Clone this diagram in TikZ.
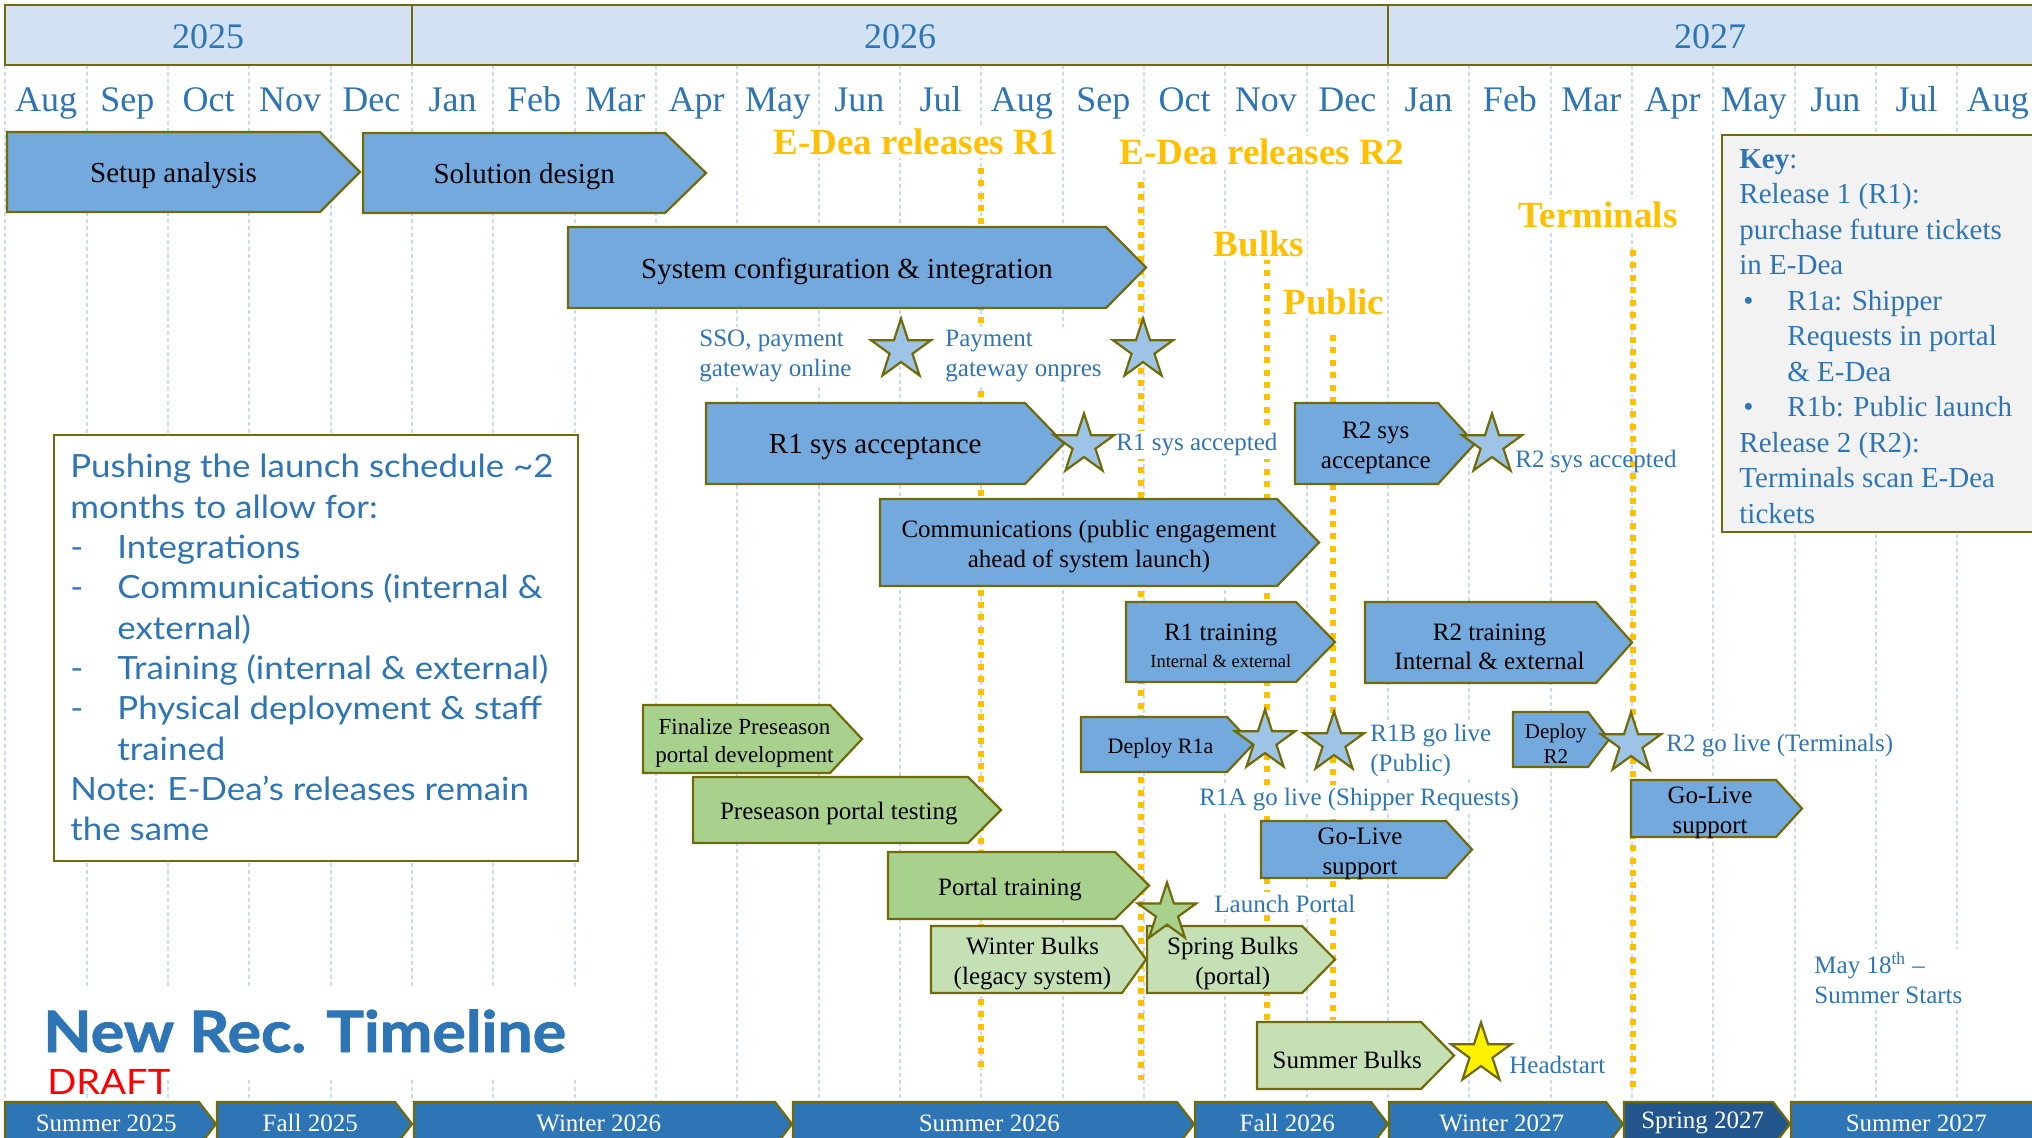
\documentclass[tikz,border=0pt]{standalone}
\usepackage{fontspec}
\setmainfont{Liberation Serif}
\newfontfamily\seriffont{Liberation Serif}
\newfontfamily\notefont{Lato}[FakeStretch=1.09]
\newfontfamily\titlefont{Lato}[FakeStretch=1.1,FakeBold=1.6]
\usetikzlibrary{shapes.geometric}
\definecolor{bordercol}{RGB}{112,106,8}
\definecolor{boxblue}{RGB}{116,169,221}
\definecolor{boxgreen}{RGB}{169,209,142}
\definecolor{boxlgreen}{RGB}{197,224,180}
\definecolor{starblue}{RGB}{157,195,230}
\definecolor{seasonblue}{RGB}{46,117,182}
\definecolor{springblue}{RGB}{34,86,140}
\definecolor{yearfill}{RGB}{210,226,243}
\definecolor{txtblue}{RGB}{46,117,182}
\definecolor{relorange}{RGB}{255,192,0}
\definecolor{gridcol}{RGB}{200,220,242}
\definecolor{keyfill}{RGB}{242,242,242}
\definecolor{draftred}{RGB}{255,0,0}
\definecolor{staryellow}{RGB}{255,242,0}
\newcommand\fs[2]{\seriffont\fontsize{#1pt}{#2pt}\selectfont}
\newcommand\fsn[2]{\fontsize{#1pt}{#2pt}\selectfont}
% style, name, x1, y1, xtip, y2, depth, font, text
\newcommand\chev[9]{%
  \draw[#1] (#3,#4) -- ({#5-#7},#4) -- (#5,{(#4+#6)/2}) -- ({#5-#7},#6) -- (#3,#6) -- cycle;
  \node[boxtext,font=#8] (#2) at ({(#3+#5-#7/2)/2},{(#4+#6)/2+4}) {#9};}
% style, name, x1, xtip, text
\newcommand\season[5]{%
  \draw[#1] (#3,1102) -- ({#4-17},1102) -- (#4,1124) -- ({#4-17},1146) -- (#3,1146) -- cycle;
  \node[seasontext] (#2) at ({(#3+#4-8.5)/2},1123) {#5};}
\begin{document}
\begin{tikzpicture}[x=0.5pt,y=-0.5pt,
  chevblue/.style={fill=boxblue,draw=bordercol,line width=1.1pt},
  chevgreen/.style={fill=boxgreen,draw=bordercol,line width=1.1pt},
  chevlgreen/.style={fill=boxlgreen,draw=bordercol,line width=1.1pt},
  seasonbox/.style={fill=seasonblue,draw=bordercol,line width=1.1pt},
  springbox/.style={fill=springblue,draw=bordercol,line width=1.1pt},
  boxtext/.style={inner sep=0pt,align=center,text=black},
  seasontext/.style={inner sep=0pt,text=white,font=\fs{12.5}{15}},
  gridline/.style={draw=gridcol,line width=1pt,dash pattern=on 2pt off 1.5pt},
  relline/.style={draw=relorange,line width=2.75pt,dash pattern=on 3pt off 3.2pt},
  bluelabel/.style={text=txtblue,align=left,inner sep=1.5pt,fill=white,font=\fs{12.5}{15}},
  orangelabel/.style={text=relorange,font=\seriffont\bfseries\fsn{18.5}{22},fill=white,inner sep=1.5pt,anchor=base},
  milestar/.style={star,star points=5,star point ratio=2.618,minimum size=31.5pt,inner sep=0pt,draw=bordercol,line width=1.1pt,fill=starblue},
  monthtext/.style={anchor=base,text=txtblue,font=\fs{18}{21},inner sep=0pt},
  yeartext/.style={anchor=base,text=txtblue,font=\fs{18}{21},inner sep=0pt},
  keytext/.style={anchor=north west,align=left,text=txtblue,font=\fs{14.5}{17.75},inner sep=0pt},
  notetext/.style={anchor=north west,align=left,text=txtblue,font=\notefont\fsn{16}{20.15},inner sep=0pt},
  titletext/.style={anchor=base west,text=txtblue,font=\titlefont\bfseries\fsn{28.5}{34},inner sep=0pt},
  drafttext/.style={anchor=base west,text=draftred,font=\notefont\fsn{17.5}{21},inner sep=0pt},
  panel/.style={draw=bordercol,line width=1.1pt}
]
\useasboundingbox (0,0) rectangle (2032,1138);
\fill[white] (0,0) rectangle (2032,1138);
% month grid
\foreach \k in {-5,...,19} \draw[gridline] ({412+81.33*\k},65) -- ({412+81.33*\k},1102);
\fill[white] (30,988) rectangle (600,1077);
% year bar
\draw[panel,fill=yearfill] (5,5) rectangle (2045,65);
\draw[panel] (412,5) -- (412,65);
\draw[panel] (1388,5) -- (1388,65);
\node[yeartext] (y2025) at (208,49) {2025};
\node[yeartext] (y2026) at (900,49) {2026};
\node[yeartext] (y2027) at (1710,49) {2027};
\foreach \mn [count=\i from 0] in {Aug,Sep,Oct,Nov,Dec,Jan,Feb,Mar,Apr,May,Jun,Jul,Aug,Sep,Oct,Nov,Dec,Jan,Feb,Mar,Apr,May,Jun,Jul,Aug}
  \node[monthtext] (mon\i) at ({412+81.33*(\i-5)+40.67},112) {\mn};
% release lines
\draw[relline] (981,168) -- (981,1067);
\draw[relline] (1141,182) -- (1141,1080);
\draw[relline] (1267,258) -- (1267,1020);
\draw[relline] (1333,335) -- (1333,1020);
\draw[relline] (1633,250) -- (1633,1087);
% panels
\draw[panel,fill=white] (54,435) rectangle (578,861);
\node[notetext] (note) at (70,454) {Pushing the launch schedule \textasciitilde2\\
months to allow for:\\
\makebox[23.5pt][l]{-}Integrations\\
\makebox[23.5pt][l]{-}Communications (internal \&\\
\hspace*{23.5pt}external)\\
\makebox[23.5pt][l]{-}Training (internal \& external)\\
\makebox[23.5pt][l]{-}Physical deployment \& staff\\
\hspace*{23.5pt}trained\\
Note: E-Dea’s releases remain\\
the same};
\draw[panel,fill=keyfill] (1722,135) rectangle (2060,532);
\node[keytext] (key) at (1739,149) {\textbf{Key}:\\
Release 1 (R1):\\
purchase future tickets\\
in E-Dea\\
\makebox[24pt][l]{\hspace{2pt}\textbullet}R1a: Shipper\\
\hspace*{24pt}Requests in portal\\
\hspace*{24pt}\& E-Dea\\
\makebox[24pt][l]{\hspace{2pt}\textbullet}R1b: Public launch\\
Release 2 (R2):\\
Terminals scan E-Dea\\
tickets};
% orange labels
\node[orangelabel] (relr1) at (916,155) {E-Dea releases R1};
\node[orangelabel] (relr2) at (1262,165) {E-Dea releases R2};
\node[orangelabel] (bulks) at (1259,257) {Bulks};
\node[orangelabel] (public) at (1334,315) {Public};
\node[orangelabel] (terminals) at (1598,228) {Terminals};
% blue labels
\node[bluelabel,anchor=west] (sso) at (696,356) {SSO, payment\\gateway online};
\node[bluelabel,anchor=west] (pay) at (942,356) {Payment\\gateway onpres};
\node[bluelabel,anchor=base west] (r1acc) at (1113,451) {R1 sys accepted};
\node[bluelabel,anchor=base west,fill=none] (r2acc) at (1512,467) {R2 sys accepted};
\node[bluelabel,anchor=west] (r1b) at (1367,750) {R1B go live\\(Public)};
\node[bluelabel,anchor=base west] (r1a) at (1196,805) {R1A go live (Shipper Requests)};
\node[bluelabel,anchor=base west] (r2live) at (1663,751) {R2 go live (Terminals)};
\node[bluelabel,anchor=base west] (launch) at (1211,912) {Launch Portal};
\node[bluelabel,anchor=base west] (head) at (1506,1073) {Headstart};
\node[bluelabel,anchor=west] (may) at (1811,978) {May 18\textsuperscript{th} –\\Summer Starts};
% chevrons
\chev{chevblue}{setup}{7}{132}{360}{212}{40}{\fs{14.5}{17.4}}{Setup analysis}
\chev{chevblue}{soldes}{363}{133}{706}{213}{41}{\fs{14.5}{17.4}}{Solution design}
\chev{chevblue}{syscfg}{568}{227}{1146}{308}{40}{\fs{14.5}{17.4}}{System configuration \& integration}
\chev{chevblue}{r1sys}{706}{403}{1064}{484}{39}{\fs{14.5}{17.4}}{R1 sys acceptance}
\chev{chevblue}{r2sys}{1295}{403}{1475}{484}{37}{\fs{12.5}{15}}{R2 sys\\acceptance}
\chev{chevblue}{comms}{880}{499}{1319}{586}{42}{\fs{12.5}{15}}{Communications (public engagement\\ahead of system launch)}
\chev{chevblue}{r1trn}{1126}{602}{1335}{682}{39}{\fs{12.5}{13.5}}{R1 training\\{\fs{9.25}{11}Internal \& external}}
\chev{chevblue}{r2trn}{1365}{602}{1632}{683}{36}{\fs{12.5}{14.5}}{R2 training\\Internal \& external}
\chev{chevblue}{depr1a}{1081}{717}{1253}{772}{26}{\fs{11}{13}}{Deploy R1a}
\chev{chevblue}{depr2}{1513}{712}{1609}{767}{21}{\fs{10.5}{12.5}}{Deploy\\R2}
\chev{chevblue}{golive1}{1261}{821}{1472}{878}{26}{\fs{12.5}{15}}{Go-Live\\support}
\chev{chevblue}{golive2}{1631}{780}{1802}{837}{26}{\fs{12.5}{15}}{Go-Live\\support}
\chev{chevgreen}{finpre}{643}{705}{862}{773}{32}{\fs{11.5}{14}}{Finalize Preseason\\portal development}
\chev{chevgreen}{pretest}{693}{777}{1001}{843}{33}{\fs{12.5}{15}}{Preseason portal testing}
\chev{chevgreen}{portaltrn}{888}{852}{1149}{919}{34}{\fs{12.5}{15}}{Portal training}
\chev{chevlgreen}{winter}{931}{926}{1146}{993}{24}{\fs{12.5}{15}}{Winter Bulks\\(legacy system)}
\chev{chevlgreen}{spring}{1147}{926}{1335}{993}{33}{\fs{12.5}{15}}{Spring Bulks\\(portal)}
\chev{chevlgreen}{summerb}{1257}{1022}{1454}{1089}{33}{\fs{12.5}{15}}{Summer Bulks}
% stars
\node[milestar] (ssostar) at (901,350) {};
\node[milestar] (paystar) at (1143,350) {};
\node[milestar] (r1accstar) at (1084,445) {};
\node[milestar] (r2accstar) at (1492,445) {};
\node[milestar] (r1astar) at (1265,741) {};
\node[milestar] (r1bstar) at (1334,743) {};
\node[milestar] (r2star) at (1631,744) {};
\node[milestar,fill=boxgreen,minimum size=30.5pt] (launchstar) at (1167,913) {};
\node[milestar,fill=staryellow] (headstar) at (1481,1054) {};
% season bar
\season{seasonbox}{s25}{5}{216}{Summer 2025}
\season{seasonbox}{f25}{217}{412}{Fall 2025}
\season{seasonbox}{w26}{414}{792}{Winter 2026}
\season{seasonbox}{s26}{793}{1194}{Summer 2026}
\season{seasonbox}{f26}{1195}{1388}{Fall 2026}
\season{seasonbox}{w27}{1389}{1623}{Winter 2027}
\season{springbox}{sp27}{1624}{1790}{Spring 2027}
\season{seasonbox}{su27}{1791}{2050}{Summer 2027}
% title
\node[titletext] (title) at (43,1052) {New Rec. Timeline};
\node[drafttext] (draft) at (47,1094) {DRAFT};
\end{tikzpicture}
\end{document}
